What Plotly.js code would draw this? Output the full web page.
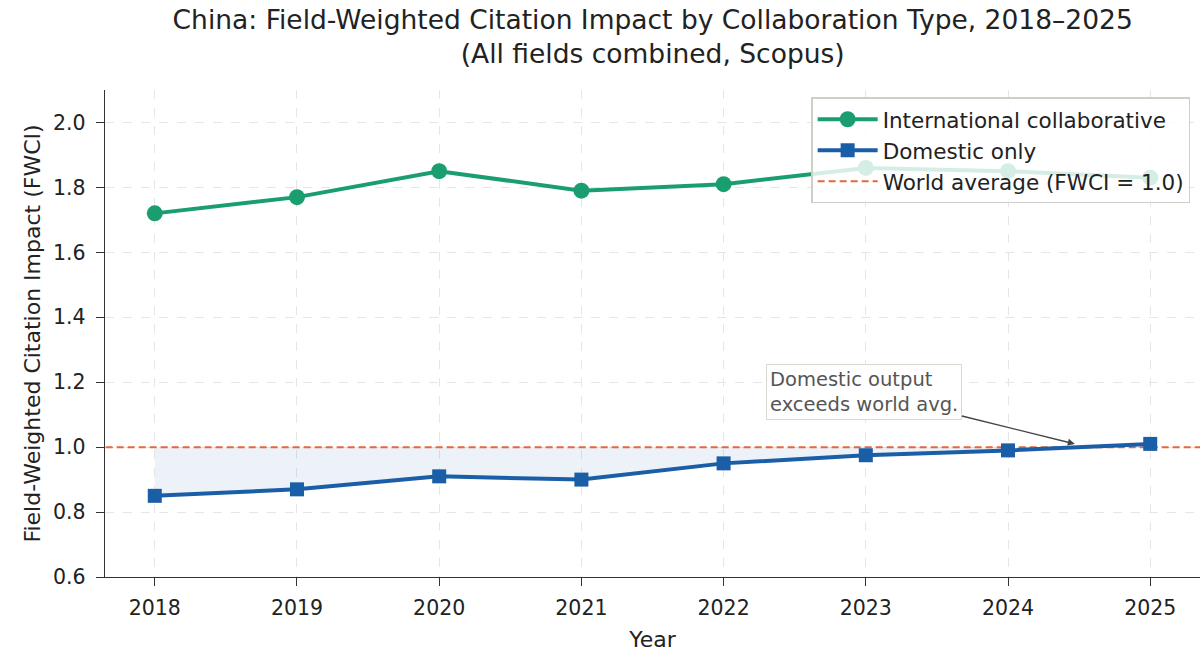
<!DOCTYPE html>
<html>
<head>
<meta charset="utf-8">
<script src="https://cdn.plot.ly/plotly-3.0.1.min.js"></script>
<style>html,body{margin:0;padding:0;background:#fff;}#chart{width:1202px;height:654px;}</style>
</head>
<body>
<div id="chart"></div>
<script>
var years = [2018, 2019, 2020, 2021, 2022, 2023, 2024, 2025];
var international = [1.72, 1.77, 1.85, 1.79, 1.81, 1.86, 1.85, 1.83];
var domestic = [0.85, 0.87, 0.91, 0.90, 0.95, 0.975, 0.99, 1.01];
var worldAvg = 1.0;
var yTicks = [0.6, 0.8, 1.0, 1.2, 1.4, 1.6, 1.8, 2.0];

var FONT = "DejaVu Sans, sans-serif";
var worldLine = years.map(function(){ return worldAvg; });
var domCapped = domestic.map(function(v){ return Math.min(v, worldAvg); });

var traces = [
  {x: years, y: worldLine, mode: 'lines', line: {width: 0, color: 'rgba(0,0,0,0)'}, showlegend: false, hoverinfo: 'skip'},
  {x: years, y: domCapped, mode: 'lines', line: {width: 0, color: 'rgba(0,0,0,0)'}, fill: 'tonexty', fillcolor: 'rgba(31,90,166,0.08)', showlegend: false, hoverinfo: 'skip'},
  {x: [2017.5, 2025.5], y: [worldAvg, worldAvg], mode: 'lines', name: 'World average (FWCI = 1.0)', line: {color: '#e2683f', width: 2, dash: '7px,4px'}, legendrank: 3},
  {x: years, y: international, mode: 'lines+markers', name: 'International collaborative', line: {color: '#1b9e6f', width: 4}, marker: {symbol: 'circle', size: 16, color: '#1b9e6f'}, legendrank: 1},
  {x: years, y: domestic, mode: 'lines+markers', name: 'Domestic only', line: {color: '#1a5ea8', width: 4}, marker: {symbol: 'square', size: 14, color: '#1a5ea8'}, legendrank: 2}
];

var layout = {
  width: 1202, height: 654,
  margin: {l: 105, r: 2, t: 90, b: 77},
  paper_bgcolor: '#fff', plot_bgcolor: '#fff',
  font: {family: FONT, color: '#222', size: 16},
  title: {text: 'China: Field-Weighted Citation Impact by Collaboration Type, 2018–2025<br>(All fields combined, Scopus)', font: {size: 26.5, family: FONT, color: '#222'}, x: 0.543, xanchor: 'center', y: 0.956, yanchor: 'middle'},
  xaxis: {
    range: [2017.65, 2025.35], tickvals: years, ticktext: years.map(String),
    showline: true, linecolor: '#333', linewidth: 1.3, ticks: 'outside', ticklen: 8, tickcolor: '#333',
    ticklabelstandoff: 4,
    showgrid: true, gridcolor: '#e6e6e6', griddash: 'dash', gridwidth: 1, zeroline: false,
    tickfont: {size: 20.5}, title: {text: 'Year', font: {size: 22}, standoff: 12}
  },
  yaxis: {
    range: [0.6, 2.1], tickvals: yTicks, ticktext: yTicks.map(function(v){return v.toFixed(1);}),
    showline: true, linecolor: '#333', linewidth: 1.3, ticks: 'outside', ticklen: 8, tickcolor: '#333',
    ticklabelstandoff: 6,
    showgrid: true, gridcolor: '#e6e6e6', griddash: 'dash', gridwidth: 1, zeroline: false,
    tickfont: {size: 20.5}, title: {text: 'Field-Weighted Citation Impact (FWCI)', font: {size: 22}, standoff: 6}
  },
  legend: {
    x: 0.991, y: 0.985, xanchor: 'right', yanchor: 'top',
    bgcolor: 'rgba(255,255,255,0.82)', bordercolor: '#cfcfc8', borderwidth: 1.5,
    font: {size: 21.5, color: '#222'}, traceorder: 'normal', itemwidth: 60
  },
  annotations: [{
    x: 2024.47, y: 1.01, xref: 'x', yref: 'y',
    ax: 2022.99, ay: 1.17, axref: 'x', ayref: 'y',
    text: 'Domestic output<br>exceeds world avg.', align: 'left',
    font: {size: 19.5, color: '#555', family: FONT},
    showarrow: true, arrowhead: 2, arrowsize: 1, arrowwidth: 1.4, arrowcolor: '#444',
    bgcolor: '#fff', bordercolor: '#d8d8d0', borderwidth: 1, borderpad: 3
  }],
  showlegend: true
};

Plotly.newPlot('chart', traces, layout, {displayModeBar: false, staticPlot: true});
</script>
</body>
</html>
